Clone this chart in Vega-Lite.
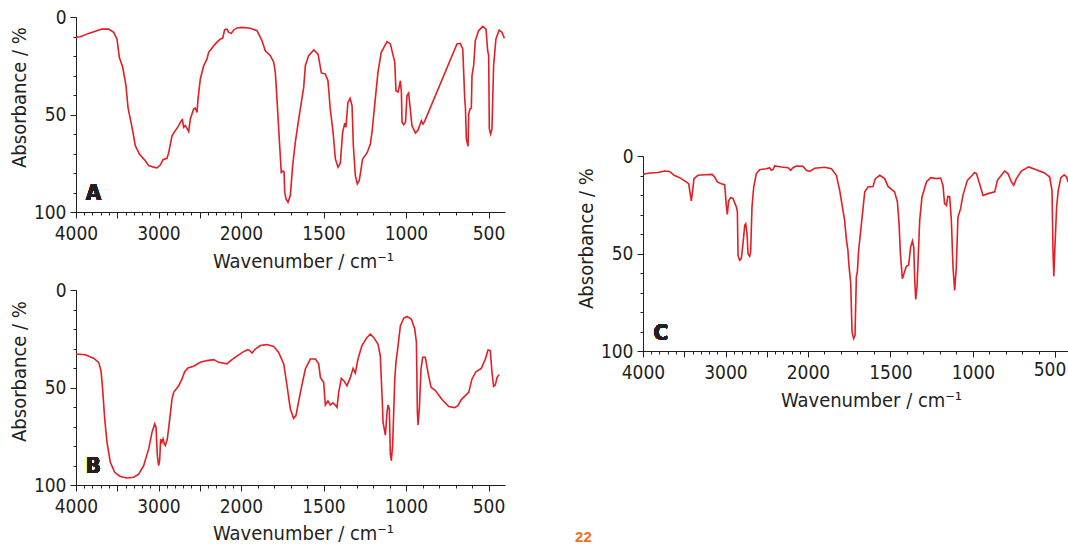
{
  "$schema": "https://vega.github.io/schema/vega-lite/v6.json",
  "padding": {"left": 9, "top": 8, "right": 0, "bottom": 0},
  "background": "white",
  "datasets": {
    "A": [
      {"wn":4000,"abs":10.4},{"wn":3948,"abs":10.1},{"wn":3846,"abs":8.4},{"wn":3685,"abs":6.2},{"wn":3604,"abs":6.2},{"wn":3543,"abs":7.9},{"wn":3503,"abs":11.3},{"wn":3475,"abs":20.7},{"wn":3434,"abs":25.8},{"wn":3394,"abs":35.2},{"wn":3370,"abs":46.3},{"wn":3321,"abs":56.6},{"wn":3281,"abs":66},{"wn":3232,"abs":70.3},{"wn":3160,"abs":73.7},{"wn":3119,"abs":76.2},{"wn":3058,"abs":77},{"wn":3018,"abs":77.4},{"wn":2978,"abs":75.9},{"wn":2945,"abs":73.2},{"wn":2897,"abs":72.5},{"wn":2876,"abs":69.4},{"wn":2836,"abs":60.9},{"wn":2796,"abs":58.3},{"wn":2755,"abs":55.7},{"wn":2723,"abs":53.2},{"wn":2711,"abs":52.7},{"wn":2695,"abs":56.6},{"wn":2675,"abs":55.7},{"wn":2655,"abs":57.1},{"wn":2634,"abs":58.8},{"wn":2614,"abs":52.3},{"wn":2574,"abs":47.2},{"wn":2554,"abs":46.7},{"wn":2533,"abs":48.9},{"wn":2521,"abs":42},{"wn":2493,"abs":31.8},{"wn":2452,"abs":25},{"wn":2412,"abs":21.5},{"wn":2392,"abs":18.1},{"wn":2311,"abs":13.8},{"wn":2251,"abs":11.3},{"wn":2222,"abs":10.9},{"wn":2198,"abs":6.5},{"wn":2170,"abs":6.2},{"wn":2149,"abs":7.9},{"wn":2117,"abs":8.4},{"wn":2089,"abs":6.7},{"wn":2048,"abs":5.6},{"wn":1994,"abs":5.3},{"wn":1944,"abs":5.8},{"wn":1903,"abs":7},{"wn":1873,"abs":12.1},{"wn":1853,"abs":17.3},{"wn":1822,"abs":19.8},{"wn":1802,"abs":23.2},{"wn":1792,"abs":28.4},{"wn":1782,"abs":42},{"wn":1768,"abs":62.6},{"wn":1756,"abs":79.7},{"wn":1745,"abs":79},{"wn":1739,"abs":79.5},{"wn":1735,"abs":89.9},{"wn":1727,"abs":93.3},{"wn":1715,"abs":95},{"wn":1701,"abs":91.6},{"wn":1687,"abs":76.2},{"wn":1671,"abs":64.3},{"wn":1650,"abs":52.3},{"wn":1620,"abs":36.1},{"wn":1610,"abs":25},{"wn":1590,"abs":19.8},{"wn":1559,"abs":16.9},{"wn":1533,"abs":19},{"wn":1513,"abs":28.7},{"wn":1489,"abs":29.2},{"wn":1473,"abs":32.7},{"wn":1459,"abs":47.2},{"wn":1442,"abs":59.1},{"wn":1428,"abs":72.8},{"wn":1412,"abs":77.1},{"wn":1398,"abs":75},{"wn":1384,"abs":59.1},{"wn":1371,"abs":54.4},{"wn":1364,"abs":56.6},{"wn":1352,"abs":43.8},{"wn":1339,"abs":41.7},{"wn":1327,"abs":45.5},{"wn":1319,"abs":66},{"wn":1307,"abs":81.4},{"wn":1295,"abs":85.6},{"wn":1283,"abs":83.8},{"wn":1263,"abs":72.8},{"wn":1236,"abs":69.7},{"wn":1216,"abs":65.1},{"wn":1206,"abs":59.1},{"wn":1186,"abs":42},{"wn":1170,"abs":28.4},{"wn":1150,"abs":18.1},{"wn":1115,"abs":12.6},{"wn":1095,"abs":13.8},{"wn":1068,"abs":23.2},{"wn":1061,"abs":37.8},{"wn":1048,"abs":38.5},{"wn":1034,"abs":32.7},{"wn":1028,"abs":38.5},{"wn":1024,"abs":54},{"wn":1014,"abs":55.2},{"wn":1003,"abs":54},{"wn":994,"abs":40.3},{"wn":984,"abs":39},{"wn":974,"abs":47.2},{"wn":964,"abs":55.7},{"wn":943,"abs":59.5},{"wn":927,"abs":58},{"wn":907,"abs":53.2},{"wn":897,"abs":54.9},{"wn":887,"abs":53.5},{"wn":691,"abs":13.8},{"wn":671,"abs":13.5},{"wn":656,"abs":16.4},{"wn":644,"abs":42},{"wn":640,"abs":46.3},{"wn":634,"abs":62.6},{"wn":624,"abs":66.3},{"wn":620,"abs":49.7},{"wn":612,"abs":47.2},{"wn":604,"abs":46.7},{"wn":600,"abs":30.1},{"wn":590,"abs":25},{"wn":580,"abs":12.1},{"wn":560,"abs":7},{"wn":535,"abs":4.8},{"wn":515,"abs":6.2},{"wn":505,"abs":17.3},{"wn":499,"abs":19.8},{"wn":495,"abs":57.4},{"wn":487,"abs":60},{"wn":479,"abs":57.4},{"wn":469,"abs":25},{"wn":455,"abs":11.3},{"wn":435,"abs":6.7},{"wn":418,"abs":7.9},{"wn":404,"abs":10.9}
    ],
    "B": [
      {"wn":4000,"abs":32.8},{"wn":3887,"abs":33.2},{"wn":3786,"abs":35},{"wn":3725,"abs":37.1},{"wn":3697,"abs":41.4},{"wn":3677,"abs":50.8},{"wn":3652,"abs":66.2},{"wn":3624,"abs":78.1},{"wn":3584,"abs":88.4},{"wn":3531,"abs":93.5},{"wn":3463,"abs":95.6},{"wn":3382,"abs":96.4},{"wn":3301,"abs":96},{"wn":3240,"abs":94.4},{"wn":3180,"abs":90.1},{"wn":3119,"abs":81.5},{"wn":3079,"abs":73},{"wn":3046,"abs":68.7},{"wn":3030,"abs":70.4},{"wn":3014,"abs":85},{"wn":2998,"abs":90.1},{"wn":2986,"abs":87.5},{"wn":2974,"abs":76.4},{"wn":2958,"abs":78.1},{"wn":2945,"abs":76.4},{"wn":2929,"abs":79},{"wn":2917,"abs":79.8},{"wn":2893,"abs":76.4},{"wn":2864,"abs":66.2},{"wn":2836,"abs":55.9},{"wn":2816,"abs":52.5},{"wn":2755,"abs":49.1},{"wn":2715,"abs":45.6},{"wn":2683,"abs":41.9},{"wn":2642,"abs":40},{"wn":2574,"abs":39.1},{"wn":2493,"abs":37.1},{"wn":2412,"abs":36.2},{"wn":2331,"abs":35.7},{"wn":2271,"abs":37.1},{"wn":2170,"abs":37.9},{"wn":2109,"abs":35.7},{"wn":2028,"abs":33.3},{"wn":1984,"abs":31.6},{"wn":1958,"abs":30.6},{"wn":1944,"abs":31.3},{"wn":1933,"abs":32.3},{"wn":1913,"abs":30.3},{"wn":1883,"abs":28.5},{"wn":1842,"abs":28},{"wn":1802,"abs":28.9},{"wn":1772,"abs":32},{"wn":1741,"abs":37.9},{"wn":1721,"abs":49.1},{"wn":1701,"abs":61},{"wn":1681,"abs":65.8},{"wn":1667,"abs":64.4},{"wn":1640,"abs":52.5},{"wn":1610,"abs":40.5},{"wn":1580,"abs":35.4},{"wn":1549,"abs":35.4},{"wn":1529,"abs":37.9},{"wn":1519,"abs":44.8},{"wn":1499,"abs":47.3},{"wn":1489,"abs":59},{"wn":1473,"abs":56.8},{"wn":1459,"abs":59},{"wn":1444,"abs":57.9},{"wn":1428,"abs":59},{"wn":1418,"abs":60.2},{"wn":1408,"abs":52.5},{"wn":1392,"abs":45.3},{"wn":1377,"abs":46.5},{"wn":1358,"abs":49.1},{"wn":1337,"abs":44.8},{"wn":1321,"abs":40.2},{"wn":1307,"abs":42.6},{"wn":1291,"abs":35.4},{"wn":1267,"abs":28.5},{"wn":1236,"abs":24.3},{"wn":1216,"abs":22.6},{"wn":1196,"abs":24.3},{"wn":1170,"abs":27.7},{"wn":1156,"abs":33.7},{"wn":1145,"abs":54.2},{"wn":1139,"abs":67.9},{"wn":1125,"abs":74.4},{"wn":1115,"abs":62.7},{"wn":1109,"abs":59},{"wn":1101,"abs":61},{"wn":1095,"abs":84.1},{"wn":1089,"abs":87.5},{"wn":1081,"abs":79.8},{"wn":1068,"abs":45.6},{"wn":1061,"abs":37.1},{"wn":1048,"abs":28.5},{"wn":1034,"abs":18.3},{"wn":1014,"abs":14.5},{"wn":994,"abs":13.5},{"wn":968,"abs":14.9},{"wn":947,"abs":20},{"wn":937,"abs":26.8},{"wn":931,"abs":62.7},{"wn":927,"abs":69.2},{"wn":919,"abs":61},{"wn":909,"abs":40.5},{"wn":899,"abs":34.5},{"wn":883,"abs":34.5},{"wn":867,"abs":42.2},{"wn":848,"abs":49.9},{"wn":822,"abs":51.6},{"wn":782,"abs":56.2},{"wn":741,"abs":59.8},{"wn":705,"abs":60.3},{"wn":685,"abs":59.3},{"wn":665,"abs":56.2},{"wn":620,"abs":52.5},{"wn":600,"abs":45.6},{"wn":576,"abs":41.9},{"wn":544,"abs":40.2},{"wn":519,"abs":35.4},{"wn":503,"abs":30.8},{"wn":489,"abs":31.1},{"wn":479,"abs":42.2},{"wn":469,"abs":49.4},{"wn":459,"abs":48.7},{"wn":448,"abs":44.8},{"wn":435,"abs":43.4}
    ],
    "C": [
      {"wn":4000,"abs":9.4},{"wn":3919,"abs":8.7},{"wn":3818,"abs":8.5},{"wn":3737,"abs":7.7},{"wn":3676,"abs":7.9},{"wn":3624,"abs":9.9},{"wn":3555,"abs":11.1},{"wn":3495,"abs":12.8},{"wn":3446,"abs":14.2},{"wn":3422,"abs":21},{"wn":3414,"abs":23},{"wn":3402,"abs":19},{"wn":3382,"abs":11.6},{"wn":3333,"abs":9.9},{"wn":3252,"abs":9.6},{"wn":3164,"abs":9.4},{"wn":3131,"abs":10.8},{"wn":3099,"abs":13.3},{"wn":3051,"abs":14.2},{"wn":3010,"abs":14.7},{"wn":2990,"abs":25.3},{"wn":2978,"abs":29.9},{"wn":2962,"abs":23},{"wn":2937,"abs":21.3},{"wn":2909,"abs":21.8},{"wn":2868,"abs":26.2},{"wn":2856,"abs":28.7},{"wn":2848,"abs":50.9},{"wn":2828,"abs":53.5},{"wn":2808,"abs":52.6},{"wn":2788,"abs":44.9},{"wn":2767,"abs":35.5},{"wn":2755,"abs":34.7},{"wn":2739,"abs":39.8},{"wn":2727,"abs":50.1},{"wn":2707,"abs":51.4},{"wn":2695,"abs":49.2},{"wn":2679,"abs":26.2},{"wn":2658,"abs":15.9},{"wn":2626,"abs":9},{"wn":2586,"abs":7},{"wn":2505,"abs":6.5},{"wn":2465,"abs":6},{"wn":2444,"abs":7.3},{"wn":2424,"abs":7},{"wn":2404,"abs":5.1},{"wn":2323,"abs":5.6},{"wn":2242,"abs":6},{"wn":2210,"abs":7.3},{"wn":2182,"abs":6},{"wn":2141,"abs":5.1},{"wn":2061,"abs":5.3},{"wn":2020,"abs":7.3},{"wn":1990,"abs":7.9},{"wn":1959,"abs":6.3},{"wn":1899,"abs":5.8},{"wn":1858,"abs":6.5},{"wn":1828,"abs":9.9},{"wn":1808,"abs":17.6},{"wn":1778,"abs":33},{"wn":1767,"abs":43.2},{"wn":1758,"abs":48.4},{"wn":1752,"abs":56},{"wn":1747,"abs":60.3},{"wn":1741,"abs":65.4},{"wn":1733,"abs":90.3},{"wn":1723,"abs":93.6},{"wn":1715,"abs":92},{"wn":1707,"abs":62},{"wn":1701,"abs":59.5},{"wn":1693,"abs":48.4},{"wn":1676,"abs":34.7},{"wn":1656,"abs":18.4},{"wn":1636,"abs":15.9},{"wn":1606,"abs":15.6},{"wn":1592,"abs":11.6},{"wn":1565,"abs":9.9},{"wn":1535,"abs":11.6},{"wn":1515,"abs":15.6},{"wn":1475,"abs":18.4},{"wn":1458,"abs":23.6},{"wn":1448,"abs":34.7},{"wn":1440,"abs":50.1},{"wn":1428,"abs":62.9},{"wn":1418,"abs":60.3},{"wn":1404,"abs":56.6},{"wn":1390,"abs":56},{"wn":1378,"abs":46.7},{"wn":1367,"abs":43.6},{"wn":1359,"abs":46.7},{"wn":1353,"abs":63.7},{"wn":1347,"abs":73.6},{"wn":1339,"abs":67},{"wn":1323,"abs":33},{"wn":1309,"abs":21},{"wn":1282,"abs":13.3},{"wn":1256,"abs":11.1},{"wn":1222,"abs":11.6},{"wn":1196,"abs":11.3},{"wn":1182,"abs":15},{"wn":1172,"abs":24.4},{"wn":1161,"abs":25.3},{"wn":1152,"abs":20.7},{"wn":1141,"abs":21},{"wn":1131,"abs":33},{"wn":1121,"abs":56.9},{"wn":1111,"abs":68.9},{"wn":1101,"abs":56.9},{"wn":1091,"abs":31.3},{"wn":1075,"abs":27},{"wn":1061,"abs":20.2},{"wn":1034,"abs":12.5},{"wn":1010,"abs":10.4},{"wn":990,"abs":8.5},{"wn":979,"abs":9},{"wn":960,"abs":14.2},{"wn":939,"abs":20.2},{"wn":909,"abs":19.3},{"wn":868,"abs":18.4},{"wn":852,"abs":12.5},{"wn":828,"abs":9.9},{"wn":808,"abs":7.7},{"wn":788,"abs":9},{"wn":767,"abs":13.3},{"wn":753,"abs":15},{"wn":737,"abs":11.6},{"wn":707,"abs":7.7},{"wn":663,"abs":5.6},{"wn":616,"abs":7},{"wn":566,"abs":8.7},{"wn":535,"abs":10.8},{"wn":521,"abs":17.6},{"wn":515,"abs":48.4},{"wn":510,"abs":61.7},{"wn":504,"abs":48.4},{"wn":493,"abs":26.2},{"wn":483,"abs":17.6},{"wn":467,"abs":11.1},{"wn":447,"abs":9.6},{"wn":432,"abs":10.8},{"wn":424,"abs":13.3}
    ]
  },
  "title": {"text": "22", "orient": "bottom", "anchor": "start", "align": "center", "dx": 574, "dy": -17, "color": "#f26f21", "fontSize": 15, "fontWeight": "bold", "font": "Liberation Sans, Arial, sans-serif"},
  "spacing": 71,
  "hconcat": [
    {
      "spacing": 10,
      "vconcat": [
        {
          "width": 429, "height": 195,
          "data": {"name": "A"},
          "resolve": {"axis": {"x": "independent", "y": "independent"}},
          "layer": [
            {
              "mark": {"type": "line", "color": "#e31e24", "strokeWidth": 1.6, "clip": true},
              "encoding": {
                "x": {"field": "wn", "type": "quantitative", "scale": {"domain": [4000, 2000, 400], "range": [0, 165, 429], "nice": false, "zero": false},
                  "axis": {"orient": "bottom", "values": [4000,3900,3800,3700,3600,3500,3400,3300,3200,3100,3000,2900,2800,2700,2600,2500,2400,2300,2200,2100,2000,1900,1800,1700,1600,1500,1400,1300,1200,1100,1000,900,800,700,600,500], "format": "d", "labelExpr": "(datum.value == 4000 || datum.value == 3000 || datum.value == 2000 || datum.value == 1500 || datum.value == 1000 || datum.value == 500) ? datum.label : ''", "tickSize": 3, "labelPadding": 9, "labelFlush": false, "labelOverlap": false, "labelFontSize": 19, "title": "Wavenumber / cm⁻¹", "titlePadding": 8, "titleX": 227}},
                "y": {"field": "abs", "type": "quantitative", "scale": {"domain": [0, 100], "reverse": true, "nice": false},
                  "axis": {"orient": "left", "values": [0,10,20,30,40,50,60,70,80,90,100], "format": "d", "labelExpr": "(datum.value == 0 || datum.value == 50 || datum.value == 100) ? datum.label : ''", "tickSize": 3, "labelPadding": 7, "labelOverlap": false, "labelFontSize": 19, "title": "Absorbance / %", "titlePadding": 4, "titleY": 80}}
              }
            },
            {
              "mark": {"type": "line", "opacity": 0},
              "encoding": {
                "x": {"field": "wn", "type": "quantitative", "axis": {"orient": "bottom", "values": [4000, 3500, 3000, 2500, 2000, 1500, 1000, 500], "tickSize": 6, "labels": false, "domain": false, "title": null}},
                "y": {"field": "abs", "type": "quantitative", "axis": {"orient": "left", "values": [0, 50, 100], "tickSize": 6, "labels": false, "domain": false, "title": null}}
              }
            },
            {
              "mark": {"type": "text", "text": "A", "font": "DejaVu Sans Condensed, sans-serif", "fontWeight": "bold", "fontSize": 22, "color": "#231f20", "align": "center", "baseline": "middle"},
              "encoding": {"x": {"datum": 3790, "type": "quantitative", "axis": null}, "y": {"datum": 90, "type": "quantitative", "axis": null}}
            }
          ]
        },
        {
          "width": 429, "height": 195,
          "data": {"name": "B"},
          "resolve": {"axis": {"x": "independent", "y": "independent"}},
          "layer": [
            {
              "mark": {"type": "line", "color": "#e31e24", "strokeWidth": 1.6, "clip": true},
              "encoding": {
                "x": {"field": "wn", "type": "quantitative", "scale": {"domain": [4000, 2000, 400], "range": [0, 165, 429], "nice": false, "zero": false},
                  "axis": {"orient": "bottom", "values": [4000,3900,3800,3700,3600,3500,3400,3300,3200,3100,3000,2900,2800,2700,2600,2500,2400,2300,2200,2100,2000,1900,1800,1700,1600,1500,1400,1300,1200,1100,1000,900,800,700,600,500], "format": "d", "labelExpr": "(datum.value == 4000 || datum.value == 3000 || datum.value == 2000 || datum.value == 1500 || datum.value == 1000 || datum.value == 500) ? datum.label : ''", "tickSize": 3, "labelPadding": 9, "labelFlush": false, "labelOverlap": false, "labelFontSize": 19, "title": "Wavenumber / cm⁻¹", "titlePadding": 7, "titleX": 227}},
                "y": {"field": "abs", "type": "quantitative", "scale": {"domain": [0, 100], "reverse": true, "nice": false},
                  "axis": {"orient": "left", "values": [0,10,20,30,40,50,60,70,80,90,100], "format": "d", "labelExpr": "(datum.value == 0 || datum.value == 50 || datum.value == 100) ? datum.label : ''", "tickSize": 3, "labelPadding": 7, "labelOverlap": false, "labelFontSize": 19, "title": "Absorbance / %", "titlePadding": 4, "titleY": 81}}
              }
            },
            {
              "mark": {"type": "line", "opacity": 0},
              "encoding": {
                "x": {"field": "wn", "type": "quantitative", "axis": {"orient": "bottom", "values": [4000, 3500, 3000, 2500, 2000, 1500, 1000, 500], "tickSize": 6, "labels": false, "domain": false, "title": null}},
                "y": {"field": "abs", "type": "quantitative", "axis": {"orient": "left", "values": [0, 50, 100], "tickSize": 6, "labels": false, "domain": false, "title": null}}
              }
            },
            {
              "mark": {"type": "text", "text": "B", "font": "DejaVu Sans Condensed, sans-serif", "fontWeight": "bold", "fontSize": 22, "color": "#231f20", "align": "center", "baseline": "middle"},
              "encoding": {"x": {"datum": 3790, "type": "quantitative", "axis": null}, "y": {"datum": 90, "type": "quantitative", "axis": null}}
            }
          ]
        }
      ]
    },
    {
      "spacing": 0,
      "vconcat": [
        {
          "width": 20, "height": 130,
          "data": {"values": []},
          "mark": {"type": "text"},
          "encoding": {}
        },
        {
          "width": 425, "height": 195,
          "data": {"name": "C"},
          "resolve": {"axis": {"x": "independent", "y": "independent"}},
          "layer": [
            {
              "mark": {"type": "line", "color": "#e31e24", "strokeWidth": 1.6, "clip": true},
              "encoding": {
                "x": {"field": "wn", "type": "quantitative", "scale": {"domain": [4000, 2000, 424], "range": [0, 165, 425], "nice": false, "zero": false},
                  "axis": {"orient": "bottom", "values": [4000,3900,3800,3700,3600,3500,3400,3300,3200,3100,3000,2900,2800,2700,2600,2500,2400,2300,2200,2100,2000,1900,1800,1700,1600,1500,1400,1300,1200,1100,1000,900,800,700,600,500], "format": "d", "labelExpr": "(datum.value == 4000 || datum.value == 3000 || datum.value == 2000 || datum.value == 1500 || datum.value == 1000) ? datum.label : ''", "tickSize": 3, "labelPadding": 9, "labelFlush": false, "labelOverlap": false, "labelFontSize": 19, "title": "Wavenumber / cm⁻¹", "titlePadding": 8, "titleX": 228}},
                "y": {"field": "abs", "type": "quantitative", "scale": {"domain": [0, 100], "reverse": true, "nice": false},
                  "axis": {"orient": "left", "values": [0,10,20,30,40,50,60,70,80,90,100], "format": "d", "labelExpr": "(datum.value == 0 || datum.value == 50 || datum.value == 100) ? datum.label : ''", "tickSize": 3, "labelPadding": 7, "labelOverlap": false, "labelFontSize": 19, "title": "Absorbance / %", "titlePadding": 4, "titleY": 82}}
              }
            },
            {
              "mark": {"type": "line", "opacity": 0},
              "encoding": {
                "x": {"field": "wn", "type": "quantitative", "axis": {"orient": "bottom", "values": [4000, 3500, 3000, 2500, 2000, 1500, 1000, 500], "tickSize": 6, "labels": false, "domain": false, "title": null}},
                "y": {"field": "abs", "type": "quantitative", "axis": {"orient": "left", "values": [0, 50, 100], "tickSize": 6, "labels": false, "domain": false, "title": null}}
              }
            },
            {
              "mark": {"type": "line", "opacity": 0},
              "encoding": {
                "x": {"field": "wn", "type": "quantitative", "axis": {"orient": "bottom", "values": [500], "format": "d", "tickSize": 6, "labelPadding": 3, "labelOffset": -6, "labelFontSize": 19, "labelFlush": false, "domain": false, "title": null}},
                "y": {"field": "abs", "type": "quantitative", "axis": null}
              }
            },
            {
              "mark": {"type": "text", "text": "C", "font": "DejaVu Sans Condensed, sans-serif", "fontWeight": "bold", "fontSize": 22, "color": "#231f20", "align": "center", "baseline": "middle"},
              "encoding": {"x": {"datum": 3785, "type": "quantitative", "axis": null}, "y": {"datum": 90.7, "type": "quantitative", "axis": null}}
            }
          ]
        }
      ]
    }
  ],
  "config": {
    "view": {"stroke": null},
    "axis": {
      "grid": false,
      "domainColor": "#231f20",
      "tickColor": "#231f20",
      "labelColor": "#231f20",
      "titleColor": "#231f20",
      "labelFont": "DejaVu Sans Condensed, sans-serif",
      "titleFont": "DejaVu Sans Condensed, sans-serif",
      "labelFontSize": 20,
      "titleFontSize": 20,
      "titleFontWeight": "normal"
    }
  }
}
